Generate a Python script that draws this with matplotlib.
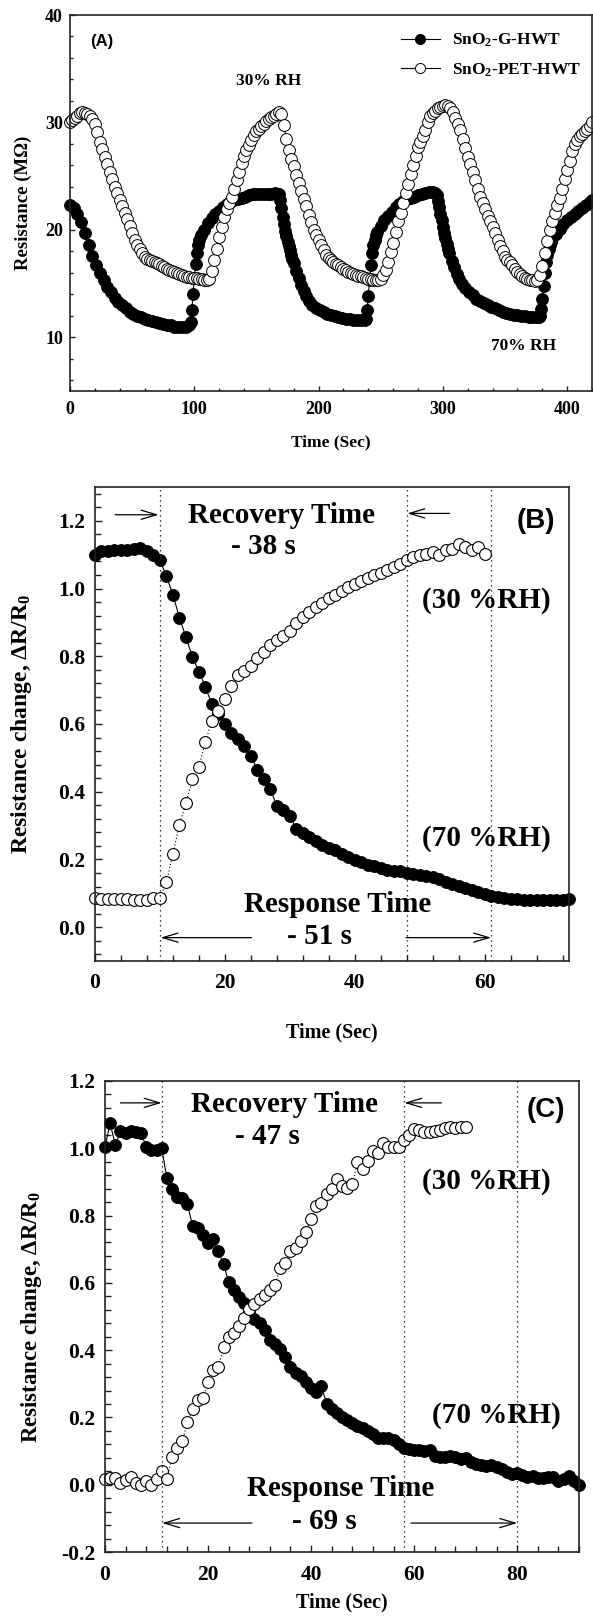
import numpy as np
import matplotlib
matplotlib.use('Agg')
import matplotlib.pyplot as plt
from matplotlib.ticker import MultipleLocator

plt.rcParams['font.family'] = ['Liberation Serif', 'DejaVu Serif']
plt.rcParams['font.weight'] = 'bold'
plt.rcParams['axes.labelweight'] = 'bold'
plt.rcParams['axes.unicode_minus'] = False
plt.rcParams['mathtext.fontset'] = 'custom'
plt.rcParams['mathtext.rm'] = 'Liberation Serif:bold'
plt.rcParams['mathtext.it'] = 'Liberation Serif:bold:italic'
plt.rcParams['mathtext.bf'] = 'Liberation Serif:bold'

# ---------------- DATA ----------------
# (A) cycling between 30% RH and 70% RH
g_time = [0, 3, 6, 9, 12, 15, 18, 21, 24, 27, 30, 33, 36, 39, 42, 45, 48, 51, 54, 57,
          60, 63, 66, 69, 72, 75, 78, 81, 84, 87, 90, 93, 96,
          97, 98, 99, 100, 101, 102, 103, 104, 105,
          108, 111, 114, 117, 120, 123, 126, 129, 132, 135, 138, 141, 144, 147, 150,
          153, 156, 159, 162, 165, 168,
          169, 170, 171, 172, 173, 174, 175, 176, 177, 178, 179, 180, 182, 184, 186,
          188, 190, 192,
          195, 198, 201, 204, 207, 210, 213, 216, 219, 222, 225, 228, 231, 234, 237,
          238, 239, 240, 241, 242, 243, 244, 245, 246, 247,
          250, 253, 256, 259, 262, 265, 268, 271, 274, 277, 280, 283, 286, 289, 292, 294,
          295, 296, 297, 298, 299, 300, 301, 302, 303, 304, 305, 307, 309, 311, 313, 315,
          318, 321, 324, 327, 330, 333, 336, 339, 342, 345, 348, 351, 354, 357, 360,
          363, 366, 369, 372, 375, 377,
          378, 379, 380, 381, 382, 383, 384, 385, 386, 387, 388,
          391, 394, 397, 400, 403, 406, 409, 412, 415, 418, 420]
g_res = [22.3, 22.0, 21.5, 20.7, 19.7, 18.6, 17.6, 16.7, 16.0, 15.3, 14.7, 14.2, 13.7, 13.3,
         13.0, 12.7, 12.4, 12.2, 12.0, 11.85, 11.7, 11.6, 11.5, 11.4, 11.3, 11.2, 11.15,
         11.1, 11.0, 11.0, 11.0, 11.0, 11.1,
         11.4, 12.5, 14.0, 15.5, 16.8, 17.8, 18.6, 19.1, 19.5,
         20.0, 20.6, 21.1, 21.5, 21.8, 22.1, 22.4, 22.6, 22.8, 22.9, 23.0, 23.1, 23.2,
         23.3, 23.3, 23.3, 23.3, 23.3, 23.3, 23.4, 23.3,
         22.8, 22.0, 21.2, 20.5, 19.9, 19.4, 18.9, 18.5, 18.1, 17.7, 17.3, 16.9, 16.2,
         15.5, 14.9, 14.3, 13.8, 13.4,
         13.0, 12.7, 12.5, 12.4, 12.2, 12.1, 12.0, 11.9, 11.8, 11.7, 11.7, 11.6, 11.6,
         11.6, 11.6,
         11.7, 12.5, 13.8, 15.3, 16.7, 17.8, 18.6, 19.1, 19.5, 19.8,
         20.4, 20.9, 21.3, 21.7, 22.1, 22.4, 22.7, 22.9, 23.0, 23.1, 23.2, 23.3, 23.4,
         23.5, 23.5, 23.4,
         23.2, 22.7, 22.1, 21.5, 20.9, 20.3, 19.7, 19.2, 18.7, 18.2, 17.8, 17.1, 16.5,
         15.9, 15.4, 15.0,
         14.6, 14.2, 13.9, 13.6, 13.4, 13.2, 13.0, 12.8, 12.7, 12.5, 12.4, 12.3, 12.2,
         12.1, 12.1, 12.0, 12.0, 11.9, 11.9, 11.9, 11.9,
         12.0, 12.6, 13.6, 14.8, 16.0, 17.0, 17.7, 18.2, 18.6, 18.9, 19.2,
         19.6, 20.1, 20.5, 20.9, 21.2, 21.5, 21.8, 22.0, 22.3, 22.6, 22.8]

pet_time = list(range(0, 421, 2))
pet_res = [30.0, 30.2, 30.4, 30.6, 30.9, 31.0, 30.9, 30.8, 30.6, 30.3,
           29.9, 29.1, 28.2, 27.5, 26.8, 26.1, 25.4, 24.7, 24.0, 23.4,
           22.8, 22.2, 21.6, 21.0, 20.4, 19.7, 19.1, 18.6, 18.2, 17.8,
           17.5, 17.3, 17.2, 17.1, 17.0, 16.9, 16.8, 16.6, 16.5, 16.4,
           16.3, 16.2, 16.1, 16.0, 15.9, 15.8, 15.7, 15.6, 15.6, 15.5,
           15.5, 15.5, 15.4, 15.4, 15.3, 15.3, 15.4, 16.2, 17.2, 18.2,
           19.3, 20.3, 21.2, 21.9, 22.5, 23.1, 23.8, 24.6, 25.4, 26.2,
           26.9, 27.4, 27.9, 28.4, 28.8, 29.2, 29.4, 29.7, 29.9, 30.1,
           30.3, 30.5, 30.6, 30.8, 31.0, 30.8, 29.8, 28.5, 27.4, 26.6,
           25.9, 25.1, 24.4, 23.6, 22.9, 22.2, 21.4, 20.7, 20.0, 19.5,
           19.1, 18.6, 18.1, 17.7, 17.4, 17.2, 17.0, 16.8, 16.7, 16.5,
           16.4, 16.3, 16.1, 16.0, 15.9, 15.8, 15.7, 15.7, 15.6, 15.5,
           15.4, 15.4, 15.3, 15.3, 15.3, 15.4, 15.8, 16.3, 17.0, 17.9,
           18.8, 19.8, 20.8, 21.6, 22.5, 23.4, 24.3, 25.2, 26.0, 26.9,
           27.7, 28.2, 28.7, 29.3, 30.0, 30.6, 30.9, 31.1, 31.3, 31.4,
           31.5, 31.6, 31.5, 31.3, 31.0, 30.4, 29.9, 29.3, 28.5, 27.6,
           26.8, 26.1, 25.4, 24.6, 23.8, 23.1, 22.5, 21.9, 21.3, 20.8,
           20.3, 19.7, 19.1, 18.5, 18.0, 17.5, 17.2, 17.0, 16.7, 16.4,
           16.1, 15.9, 15.7, 15.5, 15.4, 15.3, 15.3, 15.2, 15.3, 15.8,
           16.6, 17.8, 19.0, 20.0, 20.8, 21.6, 22.3, 23.0, 23.8, 24.7,
           25.6, 26.4, 27.3, 28.0, 28.4, 28.7, 28.9, 29.2, 29.4, 29.7,
           30.0]

# (B) SnO2-G-HWT response / recovery
b_fill_time = list(range(0, 74))
b_fill = [1.100, 1.110, 1.112, 1.113, 1.115, 1.115, 1.117, 1.120, 1.110, 1.100,
          1.085, 1.036, 0.982, 0.914, 0.857, 0.798, 0.755, 0.710, 0.658, 0.630,
          0.600, 0.573, 0.556, 0.534, 0.505, 0.465, 0.437, 0.409, 0.358, 0.347,
          0.329, 0.290, 0.278, 0.267, 0.255, 0.244, 0.235, 0.227, 0.216, 0.208,
          0.199, 0.193, 0.185, 0.180, 0.176, 0.170, 0.167, 0.165, 0.161, 0.157,
          0.153, 0.151, 0.148, 0.142, 0.134, 0.127, 0.121, 0.117, 0.110, 0.104,
          0.099, 0.093, 0.089, 0.085, 0.083, 0.082, 0.081, 0.080, 0.080, 0.080,
          0.080, 0.080, 0.080, 0.082]
b_open_time = list(range(0, 61))
b_open = [0.085, 0.084, 0.083, 0.083, 0.082, 0.082, 0.081, 0.080, 0.080, 0.085,
          0.086, 0.133, 0.216, 0.303, 0.366, 0.437, 0.473, 0.547, 0.610, 0.639,
          0.673, 0.713, 0.744, 0.757, 0.772, 0.795, 0.814, 0.834, 0.849, 0.860,
          0.876, 0.897, 0.916, 0.931, 0.945, 0.956, 0.971, 0.982, 0.993, 1.005,
          1.014, 1.022, 1.030, 1.039, 1.047, 1.056, 1.064, 1.073, 1.084, 1.093,
          1.098, 1.101, 1.107, 1.099, 1.113, 1.118, 1.133, 1.122, 1.113, 1.122,
          1.103]

# (C) SnO2-PET-HWT response / recovery
c_fill_time = list(range(0, 93))
c_fill = [1.005, 1.074, 1.010, 1.050, 1.045, 1.050, 1.048, 1.045, 1.005, 0.996,
          0.996, 1.000, 0.913, 0.879, 0.856, 0.852, 0.833, 0.770, 0.764, 0.741,
          0.718, 0.729, 0.695, 0.655, 0.603, 0.580, 0.557, 0.540, 0.517, 0.494,
          0.482, 0.459, 0.431, 0.419, 0.402, 0.379, 0.350, 0.333, 0.322, 0.304,
          0.287, 0.276, 0.293, 0.241, 0.224, 0.213, 0.201, 0.193, 0.184, 0.175,
          0.170, 0.161, 0.152, 0.140, 0.138, 0.138, 0.132, 0.121, 0.109, 0.106,
          0.104, 0.104, 0.101, 0.104, 0.086, 0.081, 0.081, 0.086, 0.081, 0.075,
          0.078, 0.069, 0.063, 0.058, 0.055, 0.058, 0.052, 0.046, 0.037, 0.032,
          0.035, 0.029, 0.023, 0.026, 0.021, 0.021, 0.023, 0.023, 0.012, 0.017,
          0.026, 0.012, -0.002]
c_open_time = list(range(0, 71))
c_open = [0.017, 0.020, 0.020, 0.006, 0.014, 0.023, 0.006, 0.000, 0.012, 0.000,
          0.017, 0.040, 0.017, 0.081, 0.109, 0.129, 0.186, 0.224, 0.253, 0.259,
          0.304, 0.342, 0.350, 0.408, 0.439, 0.450, 0.471, 0.496, 0.523, 0.538,
          0.551, 0.565, 0.580, 0.595, 0.643, 0.660, 0.695, 0.703, 0.724, 0.752,
          0.790, 0.827, 0.838, 0.864, 0.879, 0.910, 0.887, 0.881, 0.893, 0.959,
          0.939, 0.961, 0.993, 0.985, 1.016, 1.005, 1.003, 1.005, 1.024, 1.040,
          1.057, 1.054, 1.047, 1.047, 1.050, 1.054, 1.060, 1.062, 1.060, 1.062,
          1.062]

# marker times for response / recovery windows
b_marks = [10, 48, 61]
c_marks = [11, 58, 80]

W, H = 593, 1622
fig = plt.figure(figsize=(W / 100, H / 100), dpi=100)
fig.patch.set_facecolor('white')


def box(l, t, r, b):
    return [l / W, 1 - b / H, (r - l) / W, (b - t) / H]


def style(ax, xmaj, xmin, ymaj, ymin, size, xpad, ypad, lmaj, lmin):
    ax.xaxis.set_major_locator(MultipleLocator(xmaj))
    ax.xaxis.set_minor_locator(MultipleLocator(xmin))
    ax.yaxis.set_major_locator(MultipleLocator(ymaj))
    ax.yaxis.set_minor_locator(MultipleLocator(ymin))
    ax.tick_params(which='both', direction='in', top=False, right=False,
                   labelsize=size, width=1, color='#222222')
    ax.tick_params(which='major', length=lmaj)
    ax.tick_params(which='minor', length=lmin)
    ax.tick_params(axis='x', pad=xpad)
    ax.tick_params(axis='y', pad=ypad)
    for s in ax.spines.values():
        s.set_linewidth(1.2)
        s.set_color('#222222')


def arrow(ax, tail, head):
    ax.annotate('', xy=head, xytext=tail,
                arrowprops=dict(arrowstyle='->,head_length=1.1,head_width=0.33',
                                lw=0.9, color='black', shrinkA=0, shrinkB=0,
                                mutation_scale=10))


# ---------------- (A) ----------------
axA = fig.add_axes(box(70, 15, 592, 391))
axA.plot(g_time, g_res, '-', color='black', lw=0.8, marker='o', ms=8.5,
         mfc='black', mec='black', mew=0.7, clip_on=False, label='SnO$_2$-G-HWT')
axA.plot(pet_time, pet_res, '-', color='black', lw=0.8, marker='o', ms=8.5,
         mfc='white', mec='black', mew=0.7, clip_on=False, label='SnO$_2$-PET-HWT')
axA.set_xlim(0, 420)
axA.set_ylim(5, 40)
style(axA, 100, 20, 10, 2, 13, 7, 5, 3.5, 2.5)
axA.set_xlabel('Time (Sec)', fontsize=12.5)
axA.set_ylabel('Resistance (MΩ)', fontsize=13.5)
axA.xaxis.set_label_coords(0.5, -0.115)
axA.yaxis.set_label_coords(-0.072, 0.5)
axA.text(16, 37.5, '(A)', family='Liberation Sans', fontsize=12, weight='bold',
         va='center', ha='left')
axA.text(160, 33.9, '30% RH', fontsize=12.5, ha='center', va='center')
axA.text(365, 9.2, '70% RH', fontsize=12.5, ha='center', va='center')
leg = axA.legend(loc='upper left', bbox_to_anchor=(0.634, 0.955), frameon=False,
                 fontsize=12.5, handlelength=2.25, handletextpad=0.7,
                 labelspacing=0.7, borderpad=0, borderaxespad=0, markerscale=0.85)

# ---------------- (B) ----------------
axB = fig.add_axes(box(95, 487, 569, 961))
axB.plot(b_fill_time, b_fill, '-', color='black', lw=0.8, marker='o', ms=8.5,
         mfc='black', mec='black', mew=0.7, clip_on=False)
axB.plot(b_open_time, b_open, linestyle=(0, (1, 2)), color='black', lw=0.8,
         marker='o', ms=8.5, mfc='white', mec='black', mew=0.8, clip_on=False)
for x in b_marks:
    axB.axvline(x, color='black', lw=0.9, linestyle=(0, (1, 3)))
axB.set_xlim(0, 73)
axB.set_ylim(-0.1, 1.3)
style(axB, 20, 4, 0.2, 0.04, 15.5, 9, 7, 5, 4)
axB.set_xlabel('Time (Sec)', fontsize=14.5)
axB.set_ylabel('Resistance change, ΔR/R$_0$', fontsize=17)
axB.xaxis.set_label_coords(0.5, -0.13)
axB.yaxis.set_label_coords(-0.128, 0.5)
axB.text(28.7, 1.215, 'Recovery Time', fontsize=21, ha='center', va='center')
axB.text(26, 1.124, '- 38 s', fontsize=21, ha='center', va='center')
axB.text(67.9, 1.2, '(B)', family='Liberation Sans', fontsize=20, weight='bold',
         ha='center', va='center')
axB.text(60.3, 0.965, '(30 %RH)', fontsize=21, ha='center', va='center')
axB.text(60.3, 0.261, '(70 %RH)', fontsize=21, ha='center', va='center')
axB.text(37.4, 0.068, 'Response Time', fontsize=21, ha='center', va='center')
axB.text(34.5, -0.028, '- 51 s', fontsize=21, ha='center', va='center')
arrow(axB, (3.1, 1.218), (9.8, 1.218))
arrow(axB, (54.6, 1.222), (48.1, 1.222))
arrow(axB, (24.1, -0.031), (10.1, -0.031))
arrow(axB, (47.9, -0.031), (61.0, -0.031))

# ---------------- (C) ----------------
axC = fig.add_axes(box(105, 1081, 579, 1552))
axC.plot(c_fill_time, c_fill, '-', color='black', lw=0.8, marker='o', ms=8.5,
         mfc='black', mec='black', mew=0.7, clip_on=False)
axC.plot(c_open_time, c_open, linestyle=(0, (1, 2)), color='black', lw=0.8,
         marker='o', ms=8.5, mfc='white', mec='black', mew=0.8, clip_on=False)
for x in c_marks:
    axC.axvline(x, color='black', lw=0.9, linestyle=(0, (1, 3)))
axC.set_xlim(0, 92)
axC.set_ylim(-0.2, 1.2)
style(axC, 20, 4, 0.2, 0.04, 15.5, 9, 7, 5, 4)
axC.set_xlabel('Time (Sec)', fontsize=14.5)
axC.set_ylabel('Resistance change, ΔR/R$_0$', fontsize=16.5)
axC.xaxis.set_label_coords(0.5, -0.085)
axC.yaxis.set_label_coords(-0.128, 0.5)
axC.text(34.8, 1.131, 'Recovery Time', fontsize=21, ha='center', va='center')
axC.text(31.5, 1.034, '- 47 s', fontsize=21, ha='center', va='center')
axC.text(85.5, 1.114, '(C)', family='Liberation Sans', fontsize=20, weight='bold',
         ha='center', va='center')
axC.text(74.1, 0.90, '(30 %RH)', fontsize=21, ha='center', va='center')
axC.text(76.0, 0.207, '(70 %RH)', fontsize=21, ha='center', va='center')
axC.text(45.8, -0.011, 'Response Time', fontsize=21, ha='center', va='center')
axC.text(42.5, -0.108, '- 69 s', fontsize=21, ha='center', va='center')
arrow(axC, (3.0, 1.135), (11.0, 1.135))
arrow(axC, (65.3, 1.135), (58.1, 1.135))
arrow(axC, (28.5, -0.114), (11.1, -0.114))
arrow(axC, (59.4, -0.114), (80.0, -0.114))

fig.savefig('out.png', dpi=100, facecolor='white')
